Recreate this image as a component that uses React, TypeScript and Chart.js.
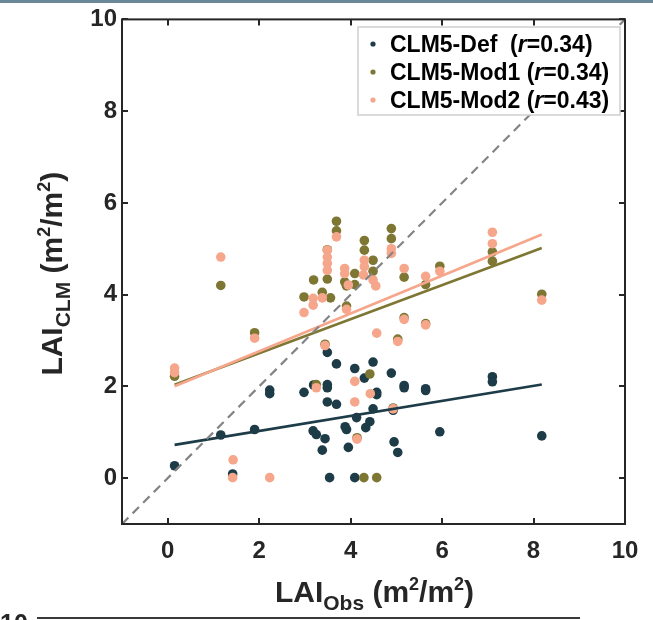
import React, { useEffect, useRef } from 'react';
import { Chart, registerables } from 'chart.js';

Chart.register(...registerables);

// ---------------- data ----------------
const seriesNames = ['CLM5-Def ', 'CLM5-Mod1', 'CLM5-Mod2'];
const rValues = ['0.34', '0.34', '0.43'];
const seriesColors = ['#1d3c48', '#7e7734', '#f5a68b'];

const defObs = [0.15, 1.16, 1.9, 2.23, 2.23, 2.98, 3.19, 3.49, 3.49, 3.49, 3.49, 3.69, 3.69, 3.18, 3.25, 3.44, 3.38, 3.54, 1.42, 4.09, 4.3, 4.13, 3.88, 3.91, 4.33, 3.95, 4.09, 4.49, 4.89, 4.57, 4.57, 5.17, 5.17, 5.64, 5.64, 4.49, 4.93, 4.42, 4.95, 5.03, 5.95, 7.1, 7.1, 8.18];
const defLAI = [0.27, 0.94, 1.06, 1.92, 1.84, 1.87, 2.03, 2.74, 2.04, 1.97, 1.66, 2.49, 1.61, 1.03, 0.95, 0.86, 0.61, 0.01, 0.09, 2.39, 2.18, 1.32, 1.12, 1.06, 1.1, 0.67, 0.01, 2.53, 2.29, 1.87, 1.82, 2.02, 1.97, 1.95, 1.91, 1.51, 1.48, 1.23, 0.79, 0.56, 1.01, 2.21, 2.1, 0.92];

const mod1Obs = [0.15, 1.16, 1.9, 2.98, 3.19, 3.38, 3.56, 3.49, 3.49, 3.69, 3.69, 3.87, 3.91, 4.09, 4.09, 3.91, 4.3, 4.3, 4.49, 4.49, 4.89, 4.89, 5.17, 5.64, 5.95, 7.1, 7.1, 8.18, 3.44, 5.17, 5.64, 5.03, 3.25, 4.42, 4.14, 4.29, 4.57, 4.93];
const mod1LAI = [2.22, 4.2, 3.17, 3.95, 4.32, 4.05, 3.93, 4.98, 4.34, 5.6, 5.39, 4.28, 4.19, 4.46, 4.22, 3.75, 5.18, 4.97, 4.75, 4.51, 5.44, 5.22, 4.38, 4.22, 4.62, 4.93, 4.73, 4.01, 2.92, 3.5, 3.37, 3.03, 2.04, 2.27, 0.88, 0.01, 0.01, 1.53];

const mod2Obs = [0.15, 0.15, 1.16, 1.9, 2.98, 3.18, 3.18, 3.38, 3.49, 3.49, 3.49, 3.49, 3.69, 3.44, 3.87, 3.87, 3.95, 3.91, 4.3, 4.3, 4.28, 4.49, 4.55, 4.89, 4.89, 5.17, 5.64, 5.95, 5.17, 5.64, 4.57, 5.03, 7.1, 7.1, 8.18, 1.43, 1.42, 2.23, 3.25, 4.09, 4.09, 4.43, 4.14, 4.93];
const mod2LAI = [2.4, 2.3, 4.82, 3.05, 3.61, 3.92, 3.77, 3.93, 4.97, 4.82, 4.68, 4.53, 5.26, 2.89, 4.57, 4.46, 4.21, 3.68, 4.75, 4.61, 4.43, 4.32, 4.19, 5.0, 4.9, 4.57, 4.4, 4.51, 3.46, 3.34, 3.16, 2.98, 5.36, 5.11, 3.88, 0.4, 0.01, 0.01, 1.97, 2.11, 1.66, 1.84, 0.85, 1.51];

const fitSlopes = [0.164, 0.371, 0.412];
const fitIntercepts = [0.7, 1.98, 1.94];

const axisMin = -1;
const axisMax = 10;
const xTickValues = [0, 2, 4, 6, 8, 10];
const yTickValues = [0, 2, 4, 6, 8, 10];

// ---------------- helpers ----------------
const FONT = '"Liberation Sans", Arial, Helvetica, sans-serif';
type Seg = { t: string; f: string; dy: number };

function drawRich(ctx: CanvasRenderingContext2D, segs: Seg[], x: number, y: number, align: 'left' | 'center') {
  let total = 0;
  for (const s of segs) {
    ctx.font = s.f;
    total += ctx.measureText(s.t).width;
  }
  let cx = align === 'center' ? x - total / 2 : x;
  ctx.textAlign = 'left';
  ctx.textBaseline = 'alphabetic';
  for (const s of segs) {
    ctx.font = s.f;
    ctx.fillText(s.t, cx, y + s.dy);
    cx += ctx.measureText(s.t).width;
  }
}

function titleSegs(main: string, sub: string): Seg[] {
  const big = `bold 30px ${FONT}`;
  const small = `bold 21px ${FONT}`;
  const sup = `bold 18px ${FONT}`;
  return [
    { t: main, f: big, dy: 0 },
    { t: sub, f: small, dy: 8 },
    { t: ' (m', f: big, dy: 0 },
    { t: '2', f: sup, dy: -12 },
    { t: '/m', f: big, dy: 0 },
    { t: '2', f: sup, dy: -12 },
    { t: ')', f: big, dy: 0 },
  ];
}

const decoPlugin = {
  id: 'deco',
  beforeDraw(chart: any) {
    const { ctx, width } = chart;
    ctx.save();
    ctx.fillStyle = '#ffffff';
    ctx.fillRect(0, 0, width, chart.height);
    ctx.fillStyle = '#6b8899';
    ctx.fillRect(0, 0, width, 3);
    ctx.restore();
  },
  afterDraw(chart: any) {
    const { ctx, chartArea: a } = chart;
    const xs = chart.scales.x;
    const ys = chart.scales.y;
    ctx.save();
    // frame
    ctx.strokeStyle = '#262626';
    ctx.lineWidth = 2;
    ctx.strokeRect(a.left, a.top, a.right - a.left, a.bottom - a.top);
    // inward ticks
    const tl = 6;
    ctx.beginPath();
    for (const v of xTickValues) {
      const px = Math.round(xs.getPixelForValue(v));
      ctx.moveTo(px, a.bottom);
      ctx.lineTo(px, a.bottom - tl);
      ctx.moveTo(px, a.top);
      ctx.lineTo(px, a.top + tl);
    }
    for (const v of yTickValues) {
      const py = Math.round(ys.getPixelForValue(v));
      ctx.moveTo(a.left, py);
      ctx.lineTo(a.left + tl, py);
      ctx.moveTo(a.right, py);
      ctx.lineTo(a.right - tl, py);
    }
    ctx.stroke();

    // legend
    const lx0 = 358, ly0 = 27, lx1 = 620, ly1 = 115;
    ctx.fillStyle = '#ffffff';
    ctx.fillRect(lx0, ly0, lx1 - lx0, ly1 - ly0);
    ctx.strokeStyle = '#cfcfcf';
    ctx.lineWidth = 1.5;
    ctx.strokeRect(lx0, ly0, lx1 - lx0, ly1 - ly0);
    const f = `bold 23px ${FONT}`;
    const fi = `italic bold 23px ${FONT}`;
    seriesNames.forEach((name, i) => {
      const baseY = 52 + i * 28;
      ctx.fillStyle = seriesColors[i];
      ctx.beginPath();
      ctx.arc(373, baseY - 8, 2.6, 0, Math.PI * 2);
      ctx.fill();
      ctx.fillStyle = '#000000';
      drawRich(ctx, [
        { t: name + ' (', f, dy: 0 },
        { t: 'r', f: fi, dy: 0 },
        { t: '=' + rValues[i] + ')', f, dy: 0 },
      ], 390, baseY, 'left');
    });

    // axis titles
    ctx.fillStyle = '#262626';
    drawRich(ctx, titleSegs('LAI', 'Obs'), (a.left + a.right) / 2 + 1, 602, 'center');
    ctx.save();
    ctx.translate(62, (a.top + a.bottom) / 2 + 2);
    ctx.rotate(-Math.PI / 2);
    drawRich(ctx, titleSegs('LAI', 'CLM'), 0, 0, 'center');
    ctx.restore();

    // next panel remnants at the bottom
    ctx.strokeStyle = '#3a3a3a';
    ctx.lineWidth = 2;
    ctx.beginPath();
    ctx.moveTo(37, 618);
    ctx.lineTo(580, 618);
    ctx.stroke();
    ctx.fillStyle = '#262626';
    ctx.font = `bold 25px ${FONT}`;
    ctx.textAlign = 'left';
    ctx.textBaseline = 'alphabetic';
    ctx.fillText('10', 0, 632);
    ctx.restore();
  },
};

function pts(xv: number[], yv: number[]) {
  return xv.map((x, i) => ({ x, y: yv[i] }));
}

export default function App() {
  const ref = useRef<HTMLCanvasElement | null>(null);
  useEffect(() => {
    if (!ref.current) return;
    const allX = [...defObs, ...mod1Obs, ...mod2Obs];
    const xLo = Math.min(...allX);
    const xHi = Math.max(...allX);
    const pointSets = [pts(defObs, defLAI), pts(mod1Obs, mod1LAI), pts(mod2Obs, mod2LAI)];
    const scatterSets = pointSets.map((data, i) => ({
      type: 'scatter' as const,
      label: seriesNames[i],
      data,
      backgroundColor: seriesColors[i],
      borderWidth: 0,
      pointRadius: 4.8,
      order: 10 - i,
    }));
    const fitSets = fitSlopes.map((m, i) => ({
      type: 'line' as const,
      label: 'fit' + i,
      data: [xLo, xHi].map((x) => ({ x, y: fitIntercepts[i] + m * x })),
      borderColor: seriesColors[i],
      borderWidth: 2.6,
      pointRadius: 0,
      showLine: true,
      fill: false,
      order: 3 - i,
    }));
    const oneToOne = {
      type: 'line' as const,
      label: '1:1',
      data: [axisMin, axisMax].map((v) => ({ x: v, y: v })),
      borderColor: '#848484',
      borderWidth: 2.2,
      borderDash: [9, 6],
      pointRadius: 0,
      showLine: true,
      fill: false,
      order: 0,
    };
    const tickFont = { family: FONT, size: 24, weight: 'bold' as const };
    const chart = new Chart(ref.current, {
      type: 'scatter',
      data: { datasets: [...scatterSets, ...fitSets, oneToOne] as any },
      options: {
        animation: false,
        responsive: false,
        devicePixelRatio: 1,
        layout: { padding: { top: 19, right: 28, left: 0, bottom: 0 } },
        plugins: { legend: { display: false }, tooltip: { enabled: false } },
        scales: {
          x: {
            type: 'linear',
            min: axisMin,
            max: axisMax,
            grid: { display: false, drawTicks: false },
            border: { display: false },
            ticks: { font: tickFont, color: '#262626', padding: 13, maxRotation: 0 },
            afterBuildTicks: (s: any) => {
              s.ticks = xTickValues.map((v) => ({ value: v }));
            },
            afterFit: (s: any) => {
              s.height = 96;
            },
          },
          y: {
            type: 'linear',
            min: axisMin,
            max: axisMax,
            grid: { display: false, drawTicks: false },
            border: { display: false },
            ticks: { font: tickFont, color: '#262626', padding: 5 },
            afterBuildTicks: (s: any) => {
              s.ticks = yTickValues.map((v) => ({ value: v }));
            },
            afterFit: (s: any) => {
              s.width = 122;
            },
          },
        },
      },
      plugins: [decoPlugin],
    });
    return () => chart.destroy();
  }, []);
  return (
    <div style={{ position: 'fixed', left: 0, top: 0, width: 653, height: 620, background: '#fff' }}>
      <canvas ref={ref} width={653} height={620} style={{ display: 'block' }} />
    </div>
  );
}
